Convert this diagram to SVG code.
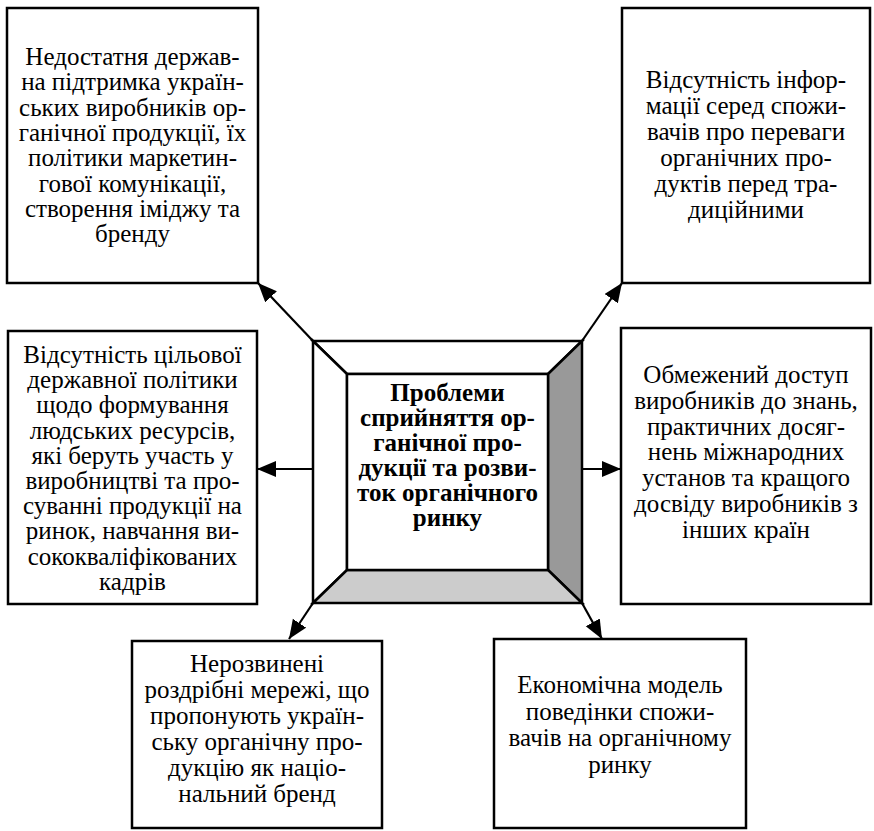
<svg xmlns="http://www.w3.org/2000/svg" width="874" height="831" viewBox="0 0 874 831">
<defs>
<marker id="ah" markerUnits="userSpaceOnUse" markerWidth="20" markerHeight="18" refX="19" refY="8" orient="auto">
<path d="M0,0 L19,8 L0,16 Z" fill="#000"/>
</marker>
<style>
.box{fill:#fff;stroke:#000;stroke-width:2.5}
text{font-family:'Liberation Serif','Times New Roman','DejaVu Serif',serif;font-size:25px;text-anchor:middle;fill:#000}
.b{font-weight:bold}
.c{stroke:#000;stroke-width:2.2;fill:none;marker-end:url(#ah)}
.bev{stroke:#000;stroke-width:2.5;stroke-linejoin:miter}
</style>
</defs>
<rect width="874" height="831" fill="#fff"/>
<g id="connectors">
<line class="c" x1="313" y1="341" x2="258" y2="283"/>
<line class="c" x1="582" y1="341" x2="622" y2="283"/>
<line class="c" x1="313" y1="469" x2="257" y2="469"/>
<line class="c" x1="582" y1="469" x2="621" y2="469"/>
<line class="c" x1="313" y1="603" x2="289" y2="639"/>
<line class="c" x1="582" y1="603" x2="602" y2="639"/>
</g>
<g id="center">
<polygon class="bev" points="313,341 582,341 548,374 347,374" fill="#fff"/>
<polygon class="bev" points="313,341 347,374 347,570 313,603" fill="#fff"/>
<polygon class="bev" points="582,341 582,603 548,570 548,374" fill="#999"/>
<polygon class="bev" points="313,603 347,570 548,570 582,603" fill="#ccc"/>
<rect class="box" x="347" y="374" width="201" height="196"/>
<text class="b"><tspan x="447.5" y="401">Проблеми</tspan><tspan x="447.5" y="426">сприйняття ор-</tspan><tspan x="447.5" y="451">ганічної про-</tspan><tspan x="447.5" y="476">дукції та розви-</tspan><tspan x="447.5" y="501">ток органічного</tspan><tspan x="447.5" y="526">ринку</tspan></text>
</g>
<g id="n-top-left">
<rect class="box" x="7" y="8" width="251" height="275"/>
<text><tspan x="132.5" y="65">Недостатня держав-</tspan><tspan x="132.5" y="90.3">на підтримка україн-</tspan><tspan x="132.5" y="115.6">ських виробників ор-</tspan><tspan x="132.5" y="140.9">ганічної продукції, їх</tspan><tspan x="132.5" y="166.2">політики маркетин-</tspan><tspan x="132.5" y="191.5">гової комунікації,</tspan><tspan x="132.5" y="216.8">створення іміджу та</tspan><tspan x="132.5" y="242.1">бренду</tspan></text>
</g>
<g id="n-top-right">
<rect class="box" x="622" y="8" width="248" height="275"/>
<text><tspan x="746" y="88">Відсутність інфор-</tspan><tspan x="746" y="114">мації серед спожи-</tspan><tspan x="746" y="140">вачів про переваги</tspan><tspan x="746" y="166">органічних про-</tspan><tspan x="746" y="192">дуктів перед тра-</tspan><tspan x="746" y="218">диційними</tspan></text>
</g>
<g id="n-left">
<rect class="box" x="8" y="331" width="249" height="273"/>
<text><tspan x="132.5" y="363">Відсутність цільової</tspan><tspan x="132.5" y="388.2">державної політики</tspan><tspan x="132.5" y="413.4">щодо формування</tspan><tspan x="132.5" y="438.6">людських ресурсів,</tspan><tspan x="132.5" y="463.8">які беруть участь у</tspan><tspan x="132.5" y="489">виробництві та про-</tspan><tspan x="132.5" y="514.2">суванні продукції на</tspan><tspan x="132.5" y="539.4">ринок, навчання ви-</tspan><tspan x="132.5" y="564.6">сококваліфікованих</tspan><tspan x="132.5" y="589.8">кадрів</tspan></text>
</g>
<g id="n-right">
<rect class="box" x="621" y="328" width="250" height="276"/>
<text><tspan x="746" y="383">Обмежений доступ</tspan><tspan x="746" y="408.8">виробників до знань,</tspan><tspan x="746" y="434.6">практичних досяг-</tspan><tspan x="746" y="460.4">нень міжнародних</tspan><tspan x="746" y="486.2">установ та кращого</tspan><tspan x="746" y="512">досвіду виробників з</tspan><tspan x="746" y="537.8">інших країн</tspan></text>
</g>
<g id="n-bottom-left">
<rect class="box" x="132" y="641" width="250" height="187"/>
<text><tspan x="257" y="672">Нерозвинені</tspan><tspan x="257" y="698">роздрібні мережі, що</tspan><tspan x="257" y="724">пропонують україн-</tspan><tspan x="257" y="750">ську органічну про-</tspan><tspan x="257" y="776">дукцію як націо-</tspan><tspan x="257" y="802">нальний бренд</tspan></text>
</g>
<g id="n-bottom-right">
<rect class="box" x="494" y="639" width="252" height="189"/>
<text><tspan x="620" y="693">Економічна модель</tspan><tspan x="620" y="719.5">поведінки спожи-</tspan><tspan x="620" y="746">вачів на органічному</tspan><tspan x="620" y="772.5">ринку</tspan></text>
</g>
</svg>
